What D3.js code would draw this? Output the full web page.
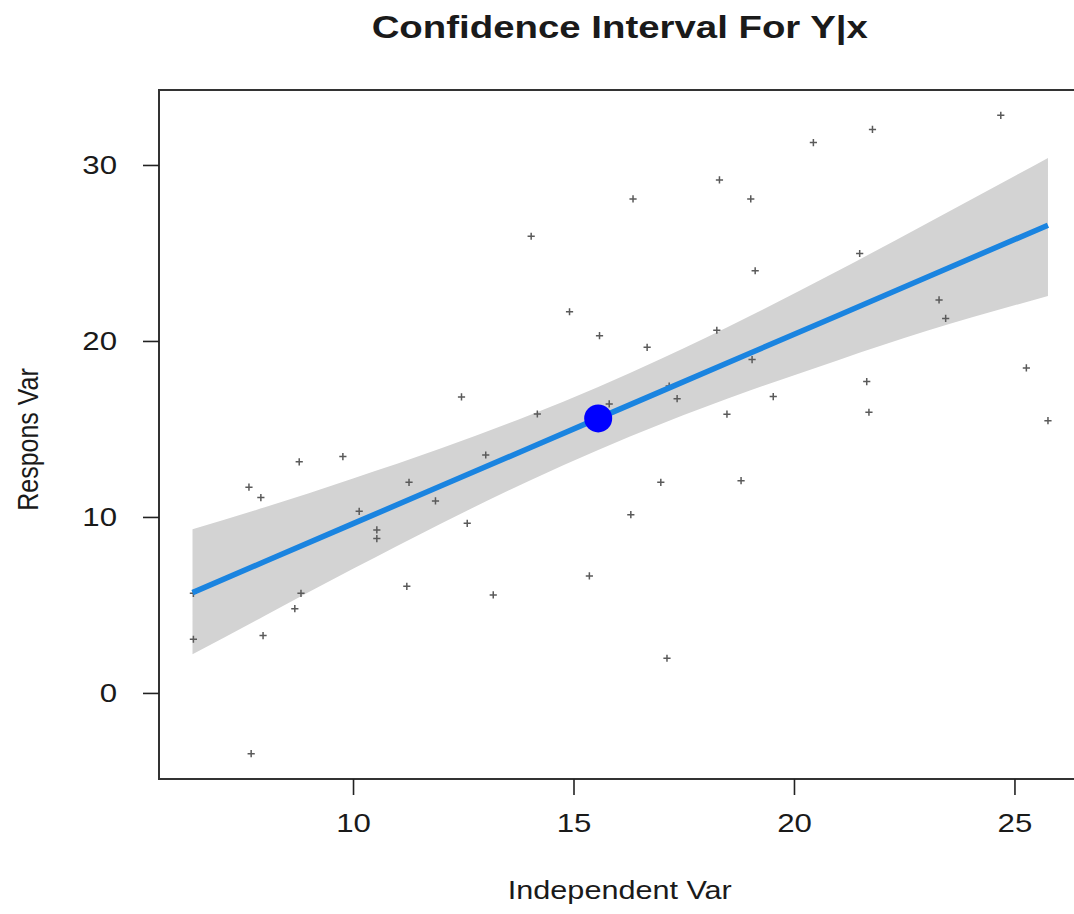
<!DOCTYPE html>
<html>
<head>
<meta charset="utf-8">
<script src="https://cdn.jsdelivr.net/npm/d3@7"></script>
<style>
  html, body { margin: 0; padding: 0; background: #ffffff; }
  svg { display: block; }
  text { font-family: "Liberation Sans", Arial, Helvetica, sans-serif; fill: #1a1a1a; }
</style>
</head>
<body>
<svg id="chart" width="1074" height="914"></svg>
<script>
// Observations (independent, response)
const obsX = [6.38, 6.38, 7.64, 7.91, 7.69, 7.96, 8.68, 8.82, 8.78, 9.77,
              10.14, 10.54, 10.54, 11.22, 11.27, 11.87, 12.46, 12.59, 13.01, 13.18,
              14.04, 14.18, 14.91, 15.36, 15.59, 15.81, 16.30, 16.35, 16.67, 16.98,
              17.12, 17.17, 17.35, 18.25, 18.31, 18.48, 18.80, 19.02, 19.05, 19.12,
              19.53, 20.44, 21.49, 21.65, 21.70, 21.78, 23.29, 23.44, 24.69, 25.27,
              25.76];
const obsY = [5.66, 3.05, 11.69, 11.10, -3.45, 3.26, 4.79, 5.66, 13.13, 13.43,
              10.32, 9.26, 8.77, 6.06, 11.97, 10.91, 16.82, 9.64, 13.52, 5.57,
              25.95, 15.85, 21.66, 6.65, 20.30, 16.42, 10.13, 28.07, 19.64, 11.97,
              1.97, 17.44, 16.72, 20.61, 29.15, 15.84, 12.06, 28.07, 18.94, 23.99,
              16.84, 31.27, 24.97, 17.69, 15.95, 32.02, 22.33, 21.28, 32.82, 18.47,
              15.47];

// Fitted line and confidence band for E(Y|x)
const bandX     = [6.36, 8, 10, 12, 14, 15.56, 17, 19, 21, 23, 25.76];
const fitY      = [5.70, 7.47, 9.62, 11.77, 13.92, 15.60, 17.15, 19.30, 21.45, 23.61, 26.58];
const bandLower = [2.20, 4.39, 7.05, 9.63, 12.06, 13.81, 15.30, 17.18, 18.91, 20.56, 22.55];
const bandUpper = [9.30, 10.55, 12.19, 13.91, 15.78, 17.39, 19.00, 21.42, 23.99, 26.66, 30.40];

// Mean point (x-bar, y-bar)
const meanPoint = [15.56, 15.60];

const xTicks = [10, 15, 20, 25];
const yTicks = [0, 10, 20, 30];

const titleText = "Confidence Interval For Y|x";
const xLabel = "Independent Var";
const yLabel = "Respons Var";

// the device renders text slightly wide
const stretch = 1.2;

const svg = d3.select("#chart");

const plot = { left: 159, right: 1080.6, top: 90, bottom: 779 };

const x = d3.scaleLinear().domain([5.6, 26.5]).range([plot.left, plot.right]);
const y = d3.scaleLinear().domain([-4.89, 34.26]).range([plot.bottom, plot.top]);

// confidence band
const bandData = bandX.map((v, i) => ({ x: v, lo: bandLower[i], hi: bandUpper[i], fit: fitY[i] }));

svg.append("path")
  .datum(bandData)
  .attr("fill", "#d3d3d3")
  .attr("stroke", "none")
  .attr("d", d3.area()
    .curve(d3.curveMonotoneX)
    .x(d => x(d.x))
    .y0(d => y(d.lo))
    .y1(d => y(d.hi)));

// observations as "+" marks
const arm = 3.6;
svg.append("g")
  .attr("stroke", "#5a5a5a")
  .attr("stroke-width", 1.5)
  .selectAll("path")
  .data(obsX.map((v, i) => [v, obsY[i]]))
  .join("path")
  .attr("d", d => {
    const cx = x(d[0]), cy = y(d[1]);
    return `M${cx - arm},${cy}H${cx + arm}M${cx},${cy - arm}V${cy + arm}`;
  });

// fitted regression line
svg.append("path")
  .datum(bandData)
  .attr("fill", "none")
  .attr("stroke", "#1a84e0")
  .attr("stroke-width", 5.5)
  .attr("d", d3.line().x(d => x(d.x)).y(d => y(d.fit)));

// mean point
svg.append("circle")
  .attr("cx", x(meanPoint[0]))
  .attr("cy", y(meanPoint[1]))
  .attr("r", 14)
  .attr("fill", "#0000ff");

// plot frame
svg.append("rect")
  .attr("x", plot.left)
  .attr("y", plot.top)
  .attr("width", plot.right - plot.left)
  .attr("height", plot.bottom - plot.top)
  .attr("fill", "none")
  .attr("stroke", "#333333")
  .attr("stroke-width", 2);

// axes
const xAxis = svg.append("g")
  .attr("transform", `translate(0,${plot.bottom})`)
  .call(d3.axisBottom(x).tickValues(xTicks).tickSize(16).tickPadding(19).tickFormat(d3.format("d")));
const yAxis = svg.append("g")
  .attr("transform", `translate(${plot.left},0)`)
  .call(d3.axisLeft(y).tickValues(yTicks).tickSize(16).tickPadding(26).tickFormat(d3.format("d")));

[xAxis, yAxis].forEach(g => {
  g.select(".domain").remove();
  g.selectAll(".tick line").attr("stroke", "#222").attr("stroke-width", 1.6);
  g.selectAll(".tick text")
    .attr("font-size", 26)
    .attr("fill", "#1a1a1a");
});
// widen tick labels around their anchor
xAxis.selectAll(".tick text").attr("transform", `scale(${stretch},1)`);
yAxis.selectAll(".tick text").each(function () {
  const t = d3.select(this);
  const tx = +t.attr("x");
  t.attr("x", tx / stretch).attr("transform", `scale(${stretch},1)`);
});

// title
svg.append("text")
  .attr("transform", `translate(${(plot.left + plot.right) / 2},38) scale(${stretch},1)`)
  .attr("text-anchor", "middle")
  .attr("font-size", 32)
  .attr("font-weight", "bold")
  .attr("fill", "#000")
  .text(titleText);

// axis titles
svg.append("text")
  .attr("transform", `translate(${(plot.left + plot.right) / 2},899) scale(${stretch},1)`)
  .attr("text-anchor", "middle")
  .attr("font-size", 25.5)
  .text(xLabel);

svg.append("text")
  .attr("transform", `translate(38,${(plot.top + plot.bottom) / 2 + 5}) scale(${stretch},1) rotate(-90)`)
  .attr("text-anchor", "middle")
  .attr("font-size", 25)
  .text(yLabel);
</script>
</body>
</html>
